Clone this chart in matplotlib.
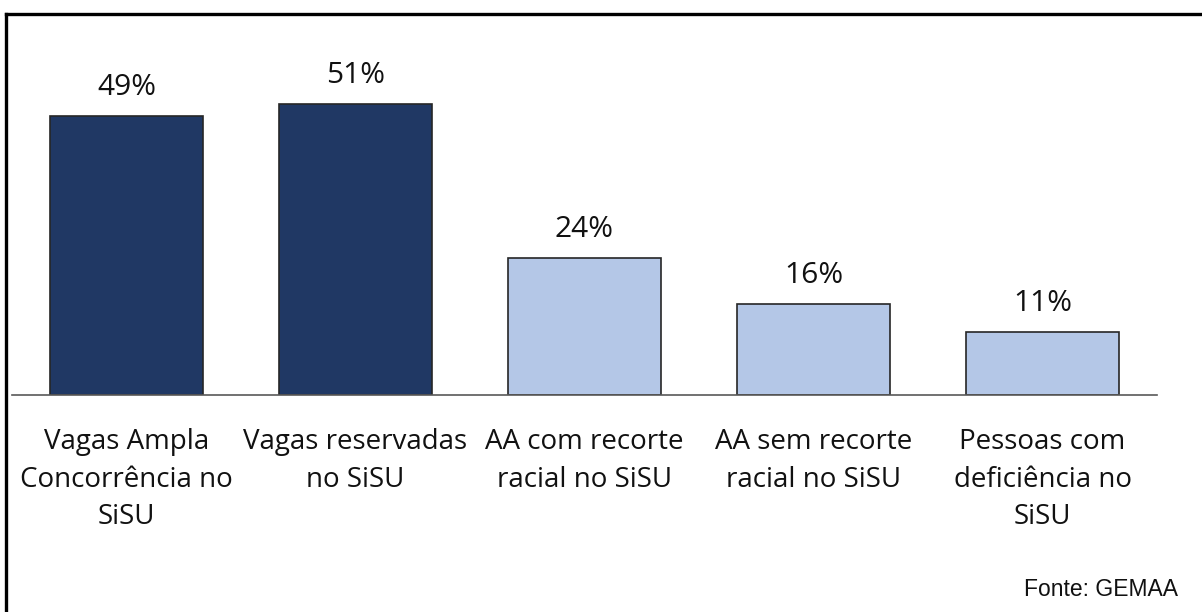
import matplotlib
matplotlib.use("Agg")
import matplotlib.pyplot as plt
from matplotlib.lines import Line2D

categories = [
    "Vagas Ampla\nConcorrência no\nSiSU",
    "Vagas reservadas\nno SiSU",
    "AA com recorte\nracial no SiSU",
    "AA sem recorte\nracial no SiSU",
    "Pessoas com\ndeficiência no\nSiSU",
]
values = [49, 51, 24, 16, 11]
value_labels = ["49%", "51%", "24%", "16%", "11%"]
bar_colors = ["#203864", "#203864", "#B4C7E7", "#B4C7E7", "#B4C7E7"]

W, H = 1202, 612
fig = plt.figure(figsize=(W / 100, H / 100), dpi=100)
fig.patch.set_facecolor("white")

base_y = 395
top_y = 81.5
ax = fig.add_axes([12 / W, (H - base_y) / H, 1145 / W, (base_y - top_y) / H])

x = list(range(len(categories)))
ax.bar(x, values, width=0.668, color=bar_colors, edgecolor="#262626",
       linewidth=1.2, zorder=2)
ax.set_xlim(-0.5, 4.5)
ax.set_ylim(0, 55)

for xi, v, lab in zip(x, values, value_labels):
    ax.annotate(lab, (xi, v), xytext=(0, 10), textcoords="offset points",
                ha="center", va="bottom", fontsize=21.5, family="Open Sans",
                color="#111111")

for s in ["top", "right", "left"]:
    ax.spines[s].set_visible(False)
ax.spines["bottom"].set_color("#595959")
ax.spines["bottom"].set_linewidth(1.2)
ax.set_yticks([])
ax.set_xticks(x)
ax.set_xticklabels(categories, fontsize=20, family="Open Sans",
                   color="#111111", linespacing=1.45)
ax.tick_params(axis="x", length=0, pad=24)

fig.text(1178 / W, 1 - 590 / H, "Fonte: GEMAA", ha="right", va="center",
         fontsize=16.5, family="Liberation Sans", color="#111111")

# outer frame (top and left edges)
fig.add_artist(Line2D([6 / W, 1.0], [1 - 14 / H, 1 - 14 / H],
                      transform=fig.transFigure, color="black", linewidth=2.4))
fig.add_artist(Line2D([6 / W, 6 / W], [1 - 14 / H, 0.0],
                      transform=fig.transFigure, color="black", linewidth=2.4))

fig.savefig("out.png", dpi=100)
